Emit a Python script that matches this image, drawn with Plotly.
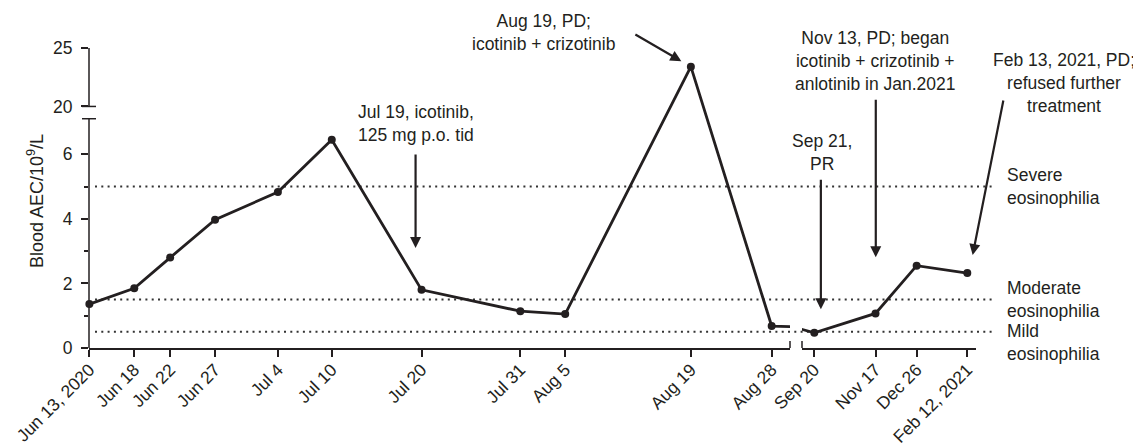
import plotly.graph_objects as go

# ---------------- data ----------------
dates = ["2020-06-13", "2020-06-18", "2020-06-22", "2020-06-27", "2020-07-04",
         "2020-07-10", "2020-07-20", "2020-07-31", "2020-08-05", "2020-08-19",
         "2020-08-28", "2020-09-20", "2020-11-17", "2020-12-26", "2021-02-12"]
tick_labels = ["Jun 13, 2020", "Jun 18", "Jun 22", "Jun 27", "Jul 4", "Jul 10",
               "Jul 20", "Jul 31", "Aug 5", "Aug 19", "Aug 28", "Sep 20",
               "Nov 17", "Dec 26", "Feb 12, 2021"]
aec = [1.36, 1.85, 2.80, 3.97, 4.83, 6.45, 1.80, 1.14, 1.05, 23.4, 0.68, 0.47,
       1.07, 2.55, 2.32]

threshold_values = [5, 1.5, 0.5]
threshold_labels = ["Severe<br>eosinophilia", "Moderate<br>eosinophilia",
                    "Mild<br>eosinophilia"]

y_tick_values = [0, 2, 4, 6, 20, 25]
y_minor_values = [1, 3, 5]

event_dates = ["2020-07-19", "2020-08-19", "2020-09-21", "2020-11-13", "2021-02-13"]
event_texts = ["Jul 19, icotinib,<br>125 mg p.o. tid",
               "Aug 19, PD;<br>icotinib + crizotinib",
               "Sep 21,<br>PR",
               "Nov 13, PD; began<br>icotinib + crizotinib +<br>anlotinib in Jan.2021",
               "Feb 13, 2021, PD;<br>refused further<br>treatment"]

# ---------------- broken y scale ----------------
LOW_TOP = 7.1        # top of lower segment
HIGH_BOTTOM = 20.0   # bottom of upper segment
HIGH_TOP = 25.0
GAP = 0.38           # gap between segments (axis units)
HIGH_RATIO = 0.362   # compression of upper segment


def to_axis(v):
    if v <= LOW_TOP:
        return v
    return LOW_TOP + GAP + (v - HIGH_BOTTOM) * HIGH_RATIO


aec_axis = [to_axis(v) for v in aec]
Y_MAX = to_axis(HIGH_TOP)

INK = "#231f20"
FONT = "Liberation Sans, Arial, sans-serif"
FS = 17.5
TFS = 17.5

BREAK_IDX = 11  # first index on the right x segment

fig = go.Figure()
hover = "%{customdata}: %{text}<extra></extra>"
fig.add_trace(go.Scatter(
    x=dates[:BREAK_IDX + 1], y=aec_axis[:BREAK_IDX + 1],
    text=[str(v) for v in aec[:BREAK_IDX + 1]], customdata=tick_labels[:BREAK_IDX + 1],
    hovertemplate=hover, mode="lines+markers",
    line=dict(color=INK, width=2.8), marker=dict(color=INK, size=8),
    cliponaxis=False, xaxis="x", yaxis="y", showlegend=False))
fig.add_trace(go.Scatter(
    x=dates[BREAK_IDX - 1:], y=aec_axis[BREAK_IDX - 1:],
    text=[str(v) for v in aec[BREAK_IDX - 1:]], customdata=tick_labels[BREAK_IDX - 1:],
    hovertemplate=hover, mode="lines+markers",
    line=dict(color=INK, width=2.8), marker=dict(color=INK, size=8),
    cliponaxis=False, xaxis="x2", yaxis="y", showlegend=False))

# page body has an 8px margin: figure is placed at (8, 8) in the window
OFF = 8
W, H = 1141 - OFF, 443 - OFF
PLOT_L, PLOT_R, PLOT_T, PLOT_B = 89, 976, 48, 348   # plot area in window pixels
L, T = PLOT_L - OFF, PLOT_T - OFF
R = 1141 - PLOT_R
B = 443 - PLOT_B
PW = PLOT_R - PLOT_L
PH = PLOT_B - PLOT_T
dom1_end = (790 - PLOT_L) / PW
dom2_start = (802 - PLOT_L) / PW


def px_x(px):
    return (px - PLOT_L) / PW


def px_y(py):
    return (PLOT_B - py) / PH


axis_common = dict(type="date", showgrid=False, zeroline=False, showline=True,
                   linecolor=INK, linewidth=1.5, ticks="outside", ticklen=7,
                   tickwidth=1.5, tickcolor=INK, tickangle=-45, tickmode="array",
                   tickfont=dict(family=FONT, size=TFS, color=INK), anchor="y",
                   automargin=False, ticklabelstandoff=-4)

fig.update_layout(
    width=W, height=H,
    margin=dict(l=L, r=R, t=T, b=B),
    paper_bgcolor="white", plot_bgcolor="white",
    xaxis=dict(domain=[0, dom1_end], range=["2020-06-12 23:00", "2020-08-30 01:00"],
               tickvals=dates[:BREAK_IDX], ticktext=tick_labels[:BREAK_IDX], **axis_common),
    xaxis2=dict(domain=[dom2_start, 1], range=["2020-09-08 08:00", "2021-02-20 06:00"],
                tickvals=dates[BREAK_IDX:], ticktext=tick_labels[BREAK_IDX:], **axis_common),
    yaxis=dict(range=[0, Y_MAX], showgrid=False, zeroline=False, showline=False,
               tickmode="array", tickvals=[to_axis(v) for v in y_tick_values],
               ticktext=[str(v) for v in y_tick_values],
               ticks="outside", ticklen=7, tickwidth=1.5, tickcolor=INK,
               tickfont=dict(family=FONT, size=TFS, color=INK), ticklabelstandoff=5,
               minor=dict(tickmode="array", tickvals=y_minor_values, ticks="outside",
                          ticklen=4, tickwidth=1.5, tickcolor=INK),
               anchor="x", automargin=False),
)

shapes = []
axis_line = dict(color=INK, width=1.5)
# y axis segments
shapes.append(dict(type="line", xref="x domain", yref="y", x0=0, x1=0, y0=0, y1=LOW_TOP,
                   line=axis_line, layer="below"))
shapes.append(dict(type="line", xref="x domain", yref="y", x0=0, x1=0,
                   y0=to_axis(HIGH_BOTTOM), y1=Y_MAX, line=axis_line, layer="below"))
# y break caps
for yv in [LOW_TOP, to_axis(HIGH_BOTTOM)]:
    shapes.append(dict(type="line", xref="x domain", xsizemode="pixel", xanchor=0,
                       x0=-7, x1=7, yref="y", y0=yv, y1=yv, line=axis_line))
# x break caps
shapes.append(dict(type="line", xref="x domain", x0=1, x1=1, yref="y", ysizemode="pixel",
                   yanchor=0, y0=-7, y1=7, line=axis_line))
shapes.append(dict(type="line", xref="x2 domain", x0=0, x1=0, yref="y", ysizemode="pixel",
                   yanchor=0, y0=-7, y1=7, line=axis_line))
# threshold dotted lines
for tv in threshold_values:
    shapes.append(dict(type="line", xref="paper", x0=px_x(95), x1=px_x(993),
                       yref="y", y0=tv, y1=tv,
                       line=dict(color="#333333", width=2, dash="2px,4.3px"), layer="below"))
fig.update_layout(shapes=shapes)

ann = []
txtfont = dict(family=FONT, size=FS, color=INK)
# threshold labels
shifts = [0, 0, -11]
for tv, tl, sh in zip(threshold_values, threshold_labels, shifts):
    ann.append(dict(x=px_x(1005), xref="paper", y=tv, yref="y", text=tl,
                    showarrow=False, xanchor="left", yanchor="middle", align="left",
                    yshift=sh, font=txtfont))

# y axis title
ann.append(dict(x=px_x(35), xref="paper", y=px_y(201), yref="paper",
                text="Blood AEC/10<sup>9</sup>/L", textangle=-90, showarrow=False,
                xanchor="center", yanchor="middle",
                font=dict(family=FONT, size=18, color=INK)))

# event texts (pixel centres in the window)
text_px = [(416, 124), (543, 33), (821.5, 152), (875, 61), (1064, 83)]
for (px, py), t in zip(text_px, event_texts):
    ann.append(dict(x=px_x(px), xref="paper", y=px_y(py), yref="paper",
                    text=t, showarrow=False, xanchor="center", yanchor="middle",
                    align="center", font=txtfont))

# event arrows
arrow_style = dict(showarrow=True, arrowhead=2, arrowsize=1, arrowwidth=2.2,
                   arrowcolor=INK, text="")
arrows = [
    dict(x=event_dates[0], xref="x", y=3.1, ax=0, ay=-95, xshift=3),
    dict(x=event_dates[1], xref="x", y=to_axis(23.4), ax=-57, ay=-33, standoff=11),
    dict(x=event_dates[2], xref="x2", y=1.2, ax=0, ay=-131, xshift=5.5),
    dict(x=event_dates[3], xref="x2", y=2.81, ax=0, ay=-159, xshift=4.5),
    dict(x=event_dates[4], xref="x2", y=2.88, ax=31, ay=-156, xshift=4.3),
]
for a in arrows:
    a.update(arrow_style)
    a["yref"] = "y"
    ann.append(a)

fig.update_layout(annotations=ann)

fig.write_html("out.html")
